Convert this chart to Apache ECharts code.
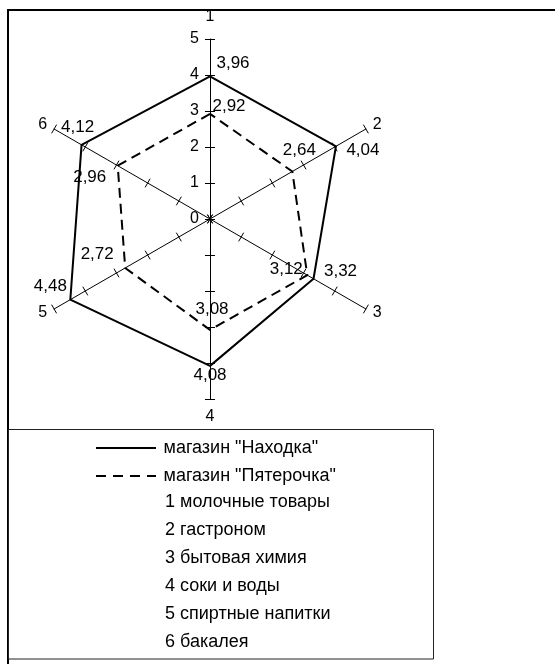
<!DOCTYPE html>
<html>
<head>
<meta charset="utf-8">
<title>Радар магазинов</title>
<script src="https://cdn.jsdelivr.net/npm/echarts@6/dist/echarts.min.js"></script>
<style>
  html, body { margin: 0; padding: 0; background: #fff; }
  #chart { width: 555px; height: 664px; }
</style>
</head>
<body>
<div id="chart"></div>
<script>
const axisNames = ['1', '2', '3', '4', '5', '6'];
const categories = ['молочные товары', 'гастроном', 'бытовая химия', 'соки и воды', 'спиртные напитки', 'бакалея'];
const axisTicks = [0, 1, 2, 3, 4, 5];
const seriesNames = ['магазин "Находка"', 'магазин "Пятерочка"'];
const nakhodka = [3.96, 4.04, 3.32, 4.08, 4.48, 4.12];
const pyaterochka = [2.92, 2.64, 3.12, 3.08, 2.72, 2.96];

const FONT = '"Liberation Sans", Arial, sans-serif';
// сдвиг подписей относительно точки, px
const labelOffsets = [
  [[23, -13], [27, 4], [27, -7], [0, 9], [-20, -13], [-4, -18]],
  [[19, -8], [7, -21], [-21, -6], [2, -21], [-28, -14], [-28, 12]]
];
const nameGaps = [14, 8, 8, 10, 8, 8];

// echarts раскладывает оси против часовой, в Excel по часовой
const order = [0, 5, 4, 3, 2, 1];
const reorder = arr => order.map(i => arr[i]);
const fmt = v => v.toFixed(2).replace('.', ',');

const center = [210, 219];
const radius = 180;

const indicator = order.map(i => {
  const ind = {
    name: axisNames[i],
    min: axisTicks[0],
    max: axisTicks[axisTicks.length - 1],
    nameGap: nameGaps[i]
  };
  if (i === 0) {
    ind.axisLabel = { show: true, color: '#000', fontSize: 16, fontFamily: FONT, margin: 11 };
  }
  return ind;
});

const labelData = [];
[nakhodka, pyaterochka].forEach((vals, s) => {
  vals.forEach((v, i) => {
    const dim = order.indexOf(i);
    labelData.push({
      value: reorder(vals),
      label: {
        show: true,
        position: 'inside',
        offset: labelOffsets[s][i],
        color: '#000',
        formatter: p => (p.dimensionIndex === dim ? fmt(v) : '')
      }
    });
  });
});

const chart = echarts.init(document.getElementById('chart'), null, { renderer: 'canvas' });

chart.setOption({
  animation: false,
  backgroundColor: '#fff',
  textStyle: { fontFamily: FONT },
  graphic: [
    {
      type: 'rect',
      shape: { x: 8, y: 10, width: 600, height: 700 },
      style: { fill: 'none', stroke: '#000', lineWidth: 2 }
    },
    {
      type: 'rect',
      shape: { x: 8.5, y: 429.5, width: 425, height: 229.5 },
      style: { fill: 'none', stroke: '#222', lineWidth: 1 }
    }
  ],
  title: {
    text: categories.map((c, i) => axisNames[i] + ' ' + c).join('\n'),
    left: 160,
    top: 483,
    textStyle: { color: '#000', fontSize: 18, fontWeight: 'normal', fontFamily: FONT, lineHeight: 28 }
  },
  legend: {
    orient: 'vertical',
    left: 91,
    top: 434,
    itemWidth: 65,
    itemHeight: 2,
    itemGap: 10,
    selectedMode: false,
    textStyle: { color: '#000', fontSize: 18, fontFamily: FONT },
    data: [
      { name: seriesNames[0], icon: 'path://M0,0h60v2h-60z' },
      { name: seriesNames[1], icon: 'path://M0,0h10v2h-10zM17,0h10v2h-10zM34,0h10v2h-10zM51,0h9v2h-9z' }
    ]
  },
  radar: [
    {
      center: center,
      radius: radius,
      shape: 'polygon',
      splitNumber: 5,
      indicator: indicator,
      axisName: { color: '#000', fontSize: 16, fontFamily: FONT },
      axisLine: { lineStyle: { color: '#000', width: 1 } },
      axisTick: { show: true, length: 5, lineStyle: { color: '#000', width: 1 } },
      axisLabel: { show: false },
      splitLine: { show: false },
      splitArea: { show: false }
    },
    {
      // вторая половина засечек, чтобы они пересекали ось
      center: center,
      radius: radius,
      shape: 'polygon',
      splitNumber: 5,
      indicator: indicator.map(d => ({ name: '', min: d.min, max: d.max })),
      axisName: { show: false },
      axisLine: { show: false },
      axisTick: { show: true, length: -5, lineStyle: { color: '#000', width: 1 } },
      axisLabel: { show: false },
      splitLine: { show: false },
      splitArea: { show: false },
      silent: true
    }
  ],
  series: [
    {
      type: 'radar',
      name: seriesNames[0],
      radarIndex: 0,
      symbol: 'none',
      itemStyle: { color: '#000' },
      lineStyle: { color: '#000', width: 2, type: 'solid' },
      data: [{ name: seriesNames[0], value: reorder(nakhodka) }],
      z: 2
    },
    {
      type: 'radar',
      name: seriesNames[1],
      radarIndex: 0,
      symbol: 'none',
      itemStyle: { color: '#000' },
      lineStyle: { color: '#000', width: 2, type: [10, 6] },
      data: [{ name: seriesNames[1], value: reorder(pyaterochka) }],
      z: 2
    },
    {
      type: 'radar',
      name: 'подписи',
      radarIndex: 0,
      silent: true,
      symbol: 'circle',
      symbolSize: 2,
      itemStyle: { color: 'rgba(0,0,0,0)' },
      lineStyle: { width: 0, opacity: 0 },
      label: { color: '#000', fontSize: 17, fontFamily: FONT },
      data: labelData,
      z: 3
    }
  ]
});
</script>
</body>
</html>
